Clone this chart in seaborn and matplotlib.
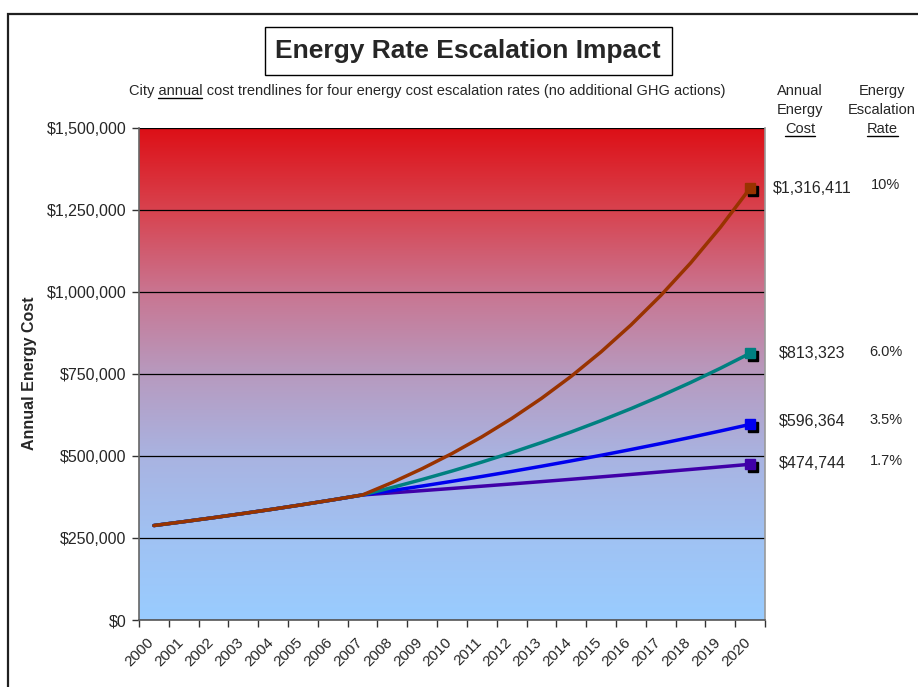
import numpy as np
import pandas as pd
import matplotlib
matplotlib.use("Agg")
import matplotlib.pyplot as plt
import seaborn as sns
from matplotlib.transforms import ScaledTranslation
from matplotlib.patches import Rectangle
from matplotlib.lines import Line2D
from matplotlib.colors import LinearSegmentedColormap
from matplotlib.ticker import FuncFormatter, FixedLocator

# ---- data -------------------------------------------------------------
years = [str(y) for y in range(2000, 2021)]

cost_10pct = [288000, 299800, 312000, 324800, 338000, 351900, 366300, 381330,
              419463, 461409, 507550, 558305, 614136, 675549, 743104, 817415,
              899156, 989072, 1087979, 1196777, 1316411]
cost_6pct = [288000, 299800, 312000, 324800, 338000, 351900, 366300, 381330,
             404210, 428462, 454170, 481420, 510305, 540923, 573379, 607781,
             644248, 682903, 723877, 767310, 813323]
cost_3_5pct = [288000, 299800, 312000, 324800, 338000, 351900, 366300, 381330,
               394677, 408490, 422787, 437585, 452900, 468752, 485158, 502138,
               519713, 537903, 556730, 576215, 596364]
cost_1_7pct = [288000, 299800, 312000, 324800, 338000, 351900, 366300, 381330,
               387813, 394406, 401111, 407930, 414865, 421918, 429090, 436385,
               443804, 451348, 459021, 466825, 474744]

rate_labels = ["10%", "6.0%", "3.5%", "1.7%"]
series = [cost_10pct, cost_6pct, cost_3_5pct, cost_1_7pct]
line_colors = ["#993300", "#008080", "#0000EE", "#4000A8"]

y_ticks = [0, 250000, 500000, 750000, 1000000, 1250000, 1500000]

# ---- figure -----------------------------------------------------------
W, H = 918, 687
sns.set_style("white")
plt.rcParams["font.family"] = ["Liberation Sans", "DejaVu Sans"]

fig = plt.figure(figsize=(W / 100, H / 100), dpi=100)
fig.patch.set_facecolor("white")

def fx(px):
    return px / W

def fy(py):
    return 1 - py / H

ax_left, ax_right, ax_top, ax_bottom = 139, 765, 128, 620
ax = fig.add_axes([fx(ax_left), fy(ax_bottom), fx(ax_right - ax_left),
                   (ax_bottom - ax_top) / H])

# outer chart frame
fig.add_artist(Rectangle((fx(8), fy(700)), fx(930), (700 - 14) / H,
                         transform=fig.transFigure, fill=False,
                         edgecolor="#202020", linewidth=1.6))

# gradient plot area background, light blue at the bottom to red at the top
grad = LinearSegmentedColormap.from_list("bg", [
    (0.00, "#99CCFF"),
    (0.167, "#A0C2F3"),
    (0.333, "#A9B3E1"),
    (0.50, "#B79ABF"),
    (0.667, "#C97591"),
    (0.833, "#D8434F"),
    (1.00, "#DD1017"),
])
ax.imshow(np.linspace(0, 1, 256).reshape(-1, 1), cmap=grad, aspect="auto",
          origin="lower", extent=[0, 1, 0, 1], transform=ax.transAxes,
          zorder=0, interpolation="bilinear")

# long-form table for seaborn
df = pd.DataFrame({
    "pos": np.tile(np.arange(len(years)), len(series)),
    "cost": np.concatenate(series),
    "rate": np.repeat(rate_labels, len(years)),
})
# slower series first so the 10% line sits on top where they overlap
for r in rate_labels[::-1]:
    i = rate_labels.index(r)
    sns.lineplot(data=df[df["rate"] == r], x="pos", y="cost", color=line_colors[i],
                 linewidth=2.5, ax=ax, legend=False, zorder=3 + (i == 0))

# end markers with black drop shadow
shadow = ax.transData + ScaledTranslation(3 / 100, -3 / 100, fig.dpi_scale_trans)
last = len(years) - 1
for vals, c in zip(series, line_colors):
    ax.plot([last], [vals[-1]], marker="s", markersize=6.5, color="black",
            transform=shadow, zorder=5, clip_on=False)
    ax.plot([last], [vals[-1]], marker="s", markersize=6.5, color=c,
            markeredgecolor=c, zorder=6, clip_on=False)

# axes
ax.set_xlim(-0.5, len(years) - 0.5)
ax.set_ylim(0, 1500000)
ax.set_yticks(y_ticks)
ax.yaxis.set_major_formatter(FuncFormatter(lambda v, p: f"${v:,.0f}"))
ax.grid(axis="y", color="#000000", linewidth=0.9)
for gl in ax.get_ygridlines():
    gl.set_zorder(1)

ax.set_xticks(range(len(years)))
ax.set_xticklabels(years, rotation=45, ha="right", rotation_mode="anchor",
                   fontsize=11)
ax.xaxis.set_minor_locator(FixedLocator(np.arange(-0.5, len(years), 1.0)))
ax.tick_params(axis="x", which="major", length=0, pad=11)
ax.tick_params(axis="x", which="minor", length=5, width=1, color="#333333",
               direction="out", bottom=True)
ax.tick_params(axis="y", length=5, width=1, color="#333333", direction="out",
               left=True, labelsize=11.5, pad=4)
for lab in ax.get_xticklabels():
    lab.set_transform(lab.get_transform() + ScaledTranslation(-7 / 100, 0, fig.dpi_scale_trans))

ax.set_xlabel("")
ax.set_ylabel("")
ax.spines["top"].set_visible(False)
ax.spines["left"].set_color("#666666")
ax.spines["bottom"].set_color("#555555")
ax.spines["right"].set_color("#999999")
for s in ["left", "bottom", "right"]:
    ax.spines[s].set_linewidth(1.2)

fig.text(fx(30), fy(373), "Annual Energy Cost", rotation=90, ha="center",
         va="center", fontsize=11.5, fontweight="bold")

# title in a box
fig.add_artist(Rectangle((fx(265), fy(75)), fx(672 - 265), (75 - 27) / H,
                         transform=fig.transFigure, fill=False,
                         edgecolor="black", linewidth=1.0))
fig.text(fx(468), fy(51), "Energy Rate Escalation Impact", ha="center",
         va="center", fontsize=19, fontweight="bold")

subtitle = "City annual cost trendlines for four energy cost escalation rates (no additional GHG actions)"
sub = fig.text(fx(427), fy(95), subtitle, ha="center", va="baseline", fontsize=10.5)

hdr_kw = dict(ha="center", va="baseline", fontsize=10.5)
cost_hdr = [fig.text(fx(800), fy(95 + 19 * k), t, **hdr_kw)
            for k, t in enumerate(["Annual", "Energy", "Cost"])]
rate_hdr = [fig.text(fx(882), fy(95 + 19 * k), t, **hdr_kw)
            for k, t in enumerate(["Energy", "Escalation", "Rate"])]

# end value and rate labels
val_y = [188, 354, 422, 463]
rate_y = [185, 352, 420, 461]
for vals, r, vy, ry in zip(series, rate_labels, val_y, rate_y):
    fig.text(fx(812), fy(vy), f"${vals[-1]:,.0f}", ha="center", va="center",
             fontsize=11.5)
    fig.text(fx(886), fy(ry), r, ha="center", va="center", fontsize=10.5)

# underlines
fig.canvas.draw()
rend = fig.canvas.get_renderer()

def text_width(s, t):
    tmp = fig.text(0, 0, s, fontproperties=t.get_fontproperties())
    w = tmp.get_window_extent(rend).width
    tmp.remove()
    return w

def underline(x0_px, x1_px, base_t):
    yb = base_t.get_transform().transform(base_t.get_position())[1] - 2.5
    fig.add_artist(Line2D([x0_px / W, x1_px / W], [yb / H, yb / H],
                          transform=fig.transFigure, color="black", linewidth=1.0))

bb = sub.get_window_extent(rend)
w_pre = text_width("City annual", sub)
w_word = text_width("annual", sub)
underline(bb.x0 + w_pre - w_word, bb.x0 + w_pre, sub)
for t in (cost_hdr[-1], rate_hdr[-1]):
    b = t.get_window_extent(rend)
    underline(b.x0, b.x1, t)

fig.savefig("out.png", dpi=100, facecolor="white")
